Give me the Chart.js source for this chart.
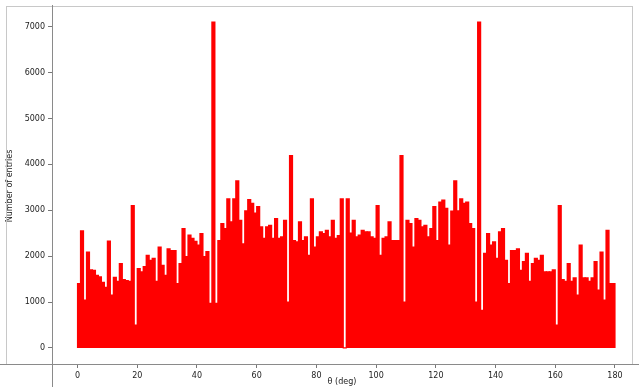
<!DOCTYPE html>
<html>
<head>
<meta charset="utf-8">
<script src="https://cdn.jsdelivr.net/npm/chart.js@4"></script>
<style>
  html, body { margin: 0; padding: 0; background: #ffffff; }
  #wrap { width: 639px; height: 387px; position: relative; }
</style>
</head>
<body>
<div id="wrap"><canvas id="hist"></canvas></div>
<script>
// counts per 1-degree bin, 0..179
const counts = [
  1400, 2550, 1040, 2090, 1700, 1690, 1580, 1550, 1430, 1320,
  2330, 1150, 1540, 1450, 1840, 1490, 1470, 1450, 3100, 500,
  1730, 1660, 1770, 2020, 1910, 1950, 1450, 2200, 1800, 1580,
  2160, 2120, 2120, 1400, 1840, 2600, 1990, 2460, 2390, 2320,
  2240, 2490, 1990, 2100, 970, 7100, 970, 2340, 2710, 2600,
  3250, 2750, 3250, 3640, 2780, 2270, 2990, 3230, 3150, 2940,
  3080, 2640, 2390, 2640, 2670, 2390, 2820, 2390, 2420, 2780,
  1000, 4190, 2340, 2310, 2750, 2340, 2420, 2020, 3250, 2200,
  2420, 2530, 2490, 2560, 2420, 2780, 2390, 2450, 3250, 0,
  3250, 2500, 2780, 2420, 2460, 2560, 2530, 2530, 2420, 2390,
  3100, 2020, 2390, 2420, 2750, 2340, 2340, 2340, 4190, 1000,
  2780, 2710, 2200, 2820, 2780, 2640, 2670, 2420, 2600, 3080,
  2340, 3180, 3220, 3040, 2240, 2980, 3640, 2990, 3250, 3150,
  3180, 2710, 2600, 1000, 7100, 820, 2060, 2490, 2240, 2310,
  1950, 2530, 2600, 1910, 1400, 2120, 2120, 2160, 1690, 1880,
  2060, 1450, 1840, 1950, 1910, 2020, 1660, 1660, 1660, 1700,
  500, 3100, 1490, 1450, 1840, 1450, 1530, 1150, 2240, 1530,
  1530, 1450, 1530, 1880, 1260, 2090, 1040, 2560, 1400, 1400
];
const binStarts = counts.map((_, i) => i);
const xTicks = [0, 20, 40, 60, 80, 100, 120, 140, 160, 180];
const yTicks = [0, 1000, 2000, 3000, 4000, 5000, 6000, 7000];

const tickFont = { family: "DejaVu Sans", size: 8 };

// frame lines like the original plot window
const frame = {
  id: "frame",
  afterDraw(chart) {
    const ctx = chart.ctx;
    const a = chart.chartArea;
    ctx.save();
    ctx.lineWidth = 1;
    ctx.strokeStyle = "#c8c8c8";
    ctx.strokeRect(6.5, 6.5, Math.round(a.right) - 6, Math.round(a.bottom) - 6);
    ctx.strokeStyle = "#8a8a8a";
    ctx.beginPath();
    ctx.moveTo(Math.round(a.left) + 0.5, 5);
    ctx.lineTo(Math.round(a.left) + 0.5, chart.height);
    ctx.moveTo(0, Math.round(a.bottom) + 0.5);
    ctx.lineTo(chart.width, Math.round(a.bottom) + 0.5);
    ctx.stroke();
    ctx.restore();
  }
};

new Chart(document.getElementById("hist"), {
  type: "bar",
  plugins: [frame],
  data: {
    datasets: [
      {
        data: binStarts.map((b, i) => ({ x: b + 0.5, y: counts[i] })),
        backgroundColor: "#ff0000",
        borderWidth: 0,
        inflateAmount: 0.6,
        barPercentage: 1,
        categoryPercentage: 1,
      },
    ],
  },
  options: {
    responsive: true,
    maintainAspectRatio: false,
    animation: false,
    layout: { padding: { top: 6, right: 7, left: 0, bottom: 0 } },
    plugins: {
      legend: { display: false },
      tooltip: { enabled: false },
    },
    scales: {
      x: {
        type: "linear",
        offset: false,
        min: -8.55,
        max: 185.7,
        afterBuildTicks: (s) => { s.ticks = xTicks.map((v) => ({ value: v })); },
        afterFit: (s) => { s.height = 23; },
        grid: { offset: false, drawOnChartArea: false, drawTicks: true, tickLength: 4, color: "#777" },
        border: { display: false },
        ticks: { font: tickFont, color: "#222", padding: 3, maxRotation: 0, autoSkip: false, callback: (v) => String(v) },
        title: { display: true, text: "θ (deg)", font: tickFont, color: "#222", padding: 0 },
      },
      y: {
        min: -350,
        max: 7412,
        afterBuildTicks: (s) => { s.ticks = yTicks.map((v) => ({ value: v })); },
        afterFit: (s) => { s.width = 52; },
        grid: { drawOnChartArea: false, drawTicks: true, tickLength: 4, color: "#777" },
        border: { display: false },
        ticks: { font: tickFont, color: "#222", padding: 3, callback: (v) => String(v) },
        title: { display: true, text: "Number of entries", font: tickFont, color: "#222", padding: 5 },
      },
    },
  },
});
</script>
</body>
</html>
